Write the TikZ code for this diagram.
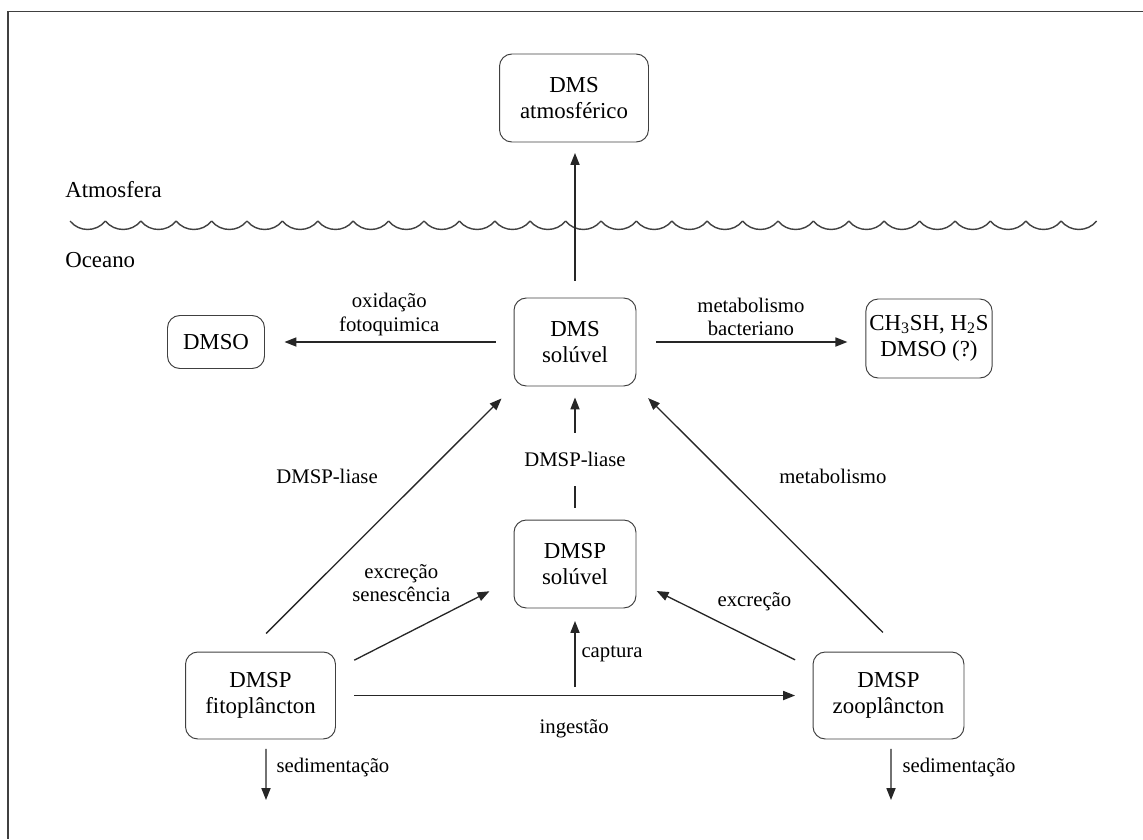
\documentclass[tikz,border=0pt]{standalone}
\usepackage{fontspec}
\setmainfont{Liberation Serif}
\usetikzlibrary{arrows.meta, positioning}
\tikzset{
  %% Rounded compartment box
  rbox/.style={
    rectangle, rounded corners=7pt,
    draw=black!75, line width=0.55pt,
    align=center, inner sep=2pt,
    font=\fontsize{13}{15}\selectfont
  },
  %% Process label
  lbl/.style={font=\fontsize{11.8}{13.2}\selectfont, align=center},
  %% Arrow
  arr/.style={-{Triangle[length=6.8pt,width=5.2pt]},
              draw=black!85, line width=0.75pt},
  %% Sea surface
  wave/.style={draw=black!75, line width=0.8pt},
}

\begin{document}
\begin{tikzpicture}[x=0.02cm, y=-0.02cm]
  \useasboundingbox (0,0) rectangle (1143,839);

  %% Frame
  \draw[draw=black!75, line width=0.8pt] (1143,11.5) -- (8,11.5) -- (8,839);

  %% Atmosphere / ocean
  \node[font=\fontsize{13}{15}\selectfont, anchor=west, inner sep=0pt]
    (atmos) at (65,190) {Atmosfera};
  \node[font=\fontsize{13}{15}\selectfont, anchor=west, inner sep=0pt]
    (ocean) at (65,260) {Oceano};
  \foreach \i in {0,...,28}
    \draw[wave] ({70+35.4*\i},221) .. controls +(9,11.3) and +(-9,11.3)
      .. ({105.4+35.4*\i},221);

  %% Boxes
  \node[rbox, minimum width=2.98cm, minimum height=1.76cm] (atm)
    at (574,98) {DMS\\atmosférico};
  \node[rbox, minimum width=2.44cm, minimum height=1.76cm] (dms)
    at (575,342) {DMS\\solúvel};
  \node[rbox, minimum width=1.94cm, minimum height=1.06cm] (dmso)
    at (216,342) {DMSO};
  \node[rbox, minimum width=2.48cm, minimum height=1.58cm] (prod)
    at (929,338.5) {CH\textsubscript{3}SH, H\textsubscript{2}S\\DMSO (?)};
  \node[rbox, minimum width=2.44cm, minimum height=1.76cm] (dmsp)
    at (575,564) {DMSP\\solúvel};
  \node[rbox, minimum width=3.0cm, minimum height=1.74cm] (fito)
    at (260.5,695.5) {DMSP\\fitoplâncton};
  \node[rbox, minimum width=3.02cm, minimum height=1.74cm] (zoo)
    at (888.5,695.5) {DMSP\\zooplâncton};

  %% DMS solúvel outputs
  \draw[arr, shorten <=0.34cm, shorten >=0.21cm] (dms) -- (dms |- atm.south);
  \draw[arr, shorten <=0.36cm, shorten >=0.39cm] (dms) --
    node[lbl, above] {oxidação\\fotoquimica} (dmso);
  \draw[arr, shorten <=0.4cm, shorten >=0.36cm] (dms.east) --
    node[lbl, above] {metabolismo\\bacteriano} (dms.east -| prod.west);

  %% Into DMS solúvel
  \draw[arr, shorten <=0.51cm, shorten >=0.34cm] ([xshift=-0.25cm]fito.north) --
    node[lbl, pos=0.66, left=0.78cm] {DMSP-liase} (dms.south west);
  \draw[arr, shorten <=0.24cm, shorten >=0.22cm] (dmsp) --
    node[lbl, pos=0.45, fill=white, inner sep=0pt, minimum height=1.06cm]
    {DMSP-liase} (dms);
  \draw[arr, shorten <=0.54cm, shorten >=0.33cm] ([xshift=0.27cm]zoo.north) --
    node[lbl, pos=0.66, right=0.92cm] {metabolismo} (dms.south east);

  %% Into DMSP solúvel
  \draw[arr, shorten <=0.41cm, shorten >=0.54cm] ([yshift=0.52cm]fito.east) --
    node[lbl, pos=0.68, above left] {excreção\\senescência} ([yshift=-0.3cm]dmsp.west);
  \draw[arr, shorten <=0.39cm, shorten >=0.45cm] ([yshift=0.54cm]zoo.west) --
    node[lbl, pos=0.33, above=0.44cm] {excreção} ([yshift=-0.34cm]dmsp.east);
  \coordinate (capt) at (575,687);
  \draw[arr, shorten >=0.25cm] (capt) --
    node[lbl, right, pos=0.42] {captura} (dmsp.south);

  %% Grazing
  \draw[arr, shorten <=0.37cm, shorten >=0.35cm] (fito) --
    node[lbl, below=0.36cm] {ingestão} (zoo);

  %% Sinking
  \coordinate (sedF) at (266,800);
  \coordinate (sedZ) at (891,800);
  \draw[arr, shorten <=0.19cm] ([xshift=0.11cm]fito.south) --
    node[lbl, right=0.08cm, pos=0.47] {sedimentação} (sedF);
  \draw[arr, shorten <=0.19cm] ([xshift=0.05cm]zoo.south) --
    node[lbl, right=0.1cm, pos=0.47] {sedimentação} (sedZ);

\end{tikzpicture}
\end{document}
